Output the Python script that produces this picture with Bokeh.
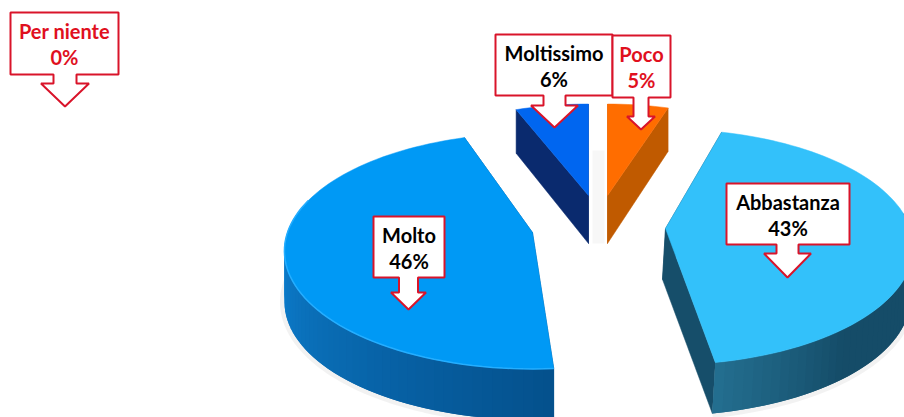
import math
from bokeh.plotting import figure
from bokeh.models import Range1d
from bokeh.core.properties import value
from bokeh.embed import file_html
from bokeh.resources import INLINE

# Data, clockwise from 12 o'clock
categories = ["Poco", "Abbastanza", "Molto", "Per niente", "Moltissimo"]
percent = [5, 43, 46, 0, 6]

# 3D look of each slice
top_color = {"Poco": "#FF6D00", "Abbastanza": "#33C1FA", "Molto": "#0099F5", "Moltissimo": "#0066F0"}
radial_color = {"Poco": "#C05A00", "Abbastanza": "#164E6A", "Molto": "#04508C", "Moltissimo": "#0A2A6E"}
side_near = {"Poco": "#C05A00", "Abbastanza": "#246F90", "Molto": "#04508C", "Moltissimo": "#0A2A6E"}
side_far = {"Poco": "#C05A00", "Abbastanza": "#154C68", "Molto": "#0E84D6", "Moltissimo": "#0A2A6E"}
side_span = {"Poco": 30, "Abbastanza": 30, "Molto": 100, "Moltissimo": 30}
apex = {"Poco": (607, 195), "Abbastanza": (665, 228), "Molto": (532, 232), "Moltissimo": (588, 195)}
scale = {"Poco": 0.92, "Abbastanza": 1.0, "Molto": 1.0, "Moltissimo": 0.92}
depth = {"Poco": 48, "Abbastanza": 51, "Molto": 51, "Moltissimo": 48}
lean = {"Poco": 0, "Abbastanza": -3, "Molto": 0, "Moltissimo": 0}
turn = {"Poco": 0, "Abbastanza": -2.7, "Molto": 3, "Moltissimo": 0}
RX, RY, PERSP = 245, 115, 0.157

# Callouts: box left, right, top, bottom; shaft half width, shaft end, head half width, tip
callout = {
    "Per niente": (10, 118, 12, 74, 11.5, 83, 24, 106, 64.5),
    "Moltissimo": (495, 612, 34, 95, 11, 105, 23.5, 127, 554),
    "Poco": (612, 670, 35, 97, 7.5, 116, 14, 129, 640.5),
    "Molto": (373, 444, 216, 277, 9.5, 292, 17.5, 309, 408),
    "Abbastanza": (726, 849, 183, 244, 11, 253, 23.5, 277, 787),
}
label_color = {"Per niente": "#E0101E", "Poco": "#E0101E", "Moltissimo": "#000000", "Molto": "#000000", "Abbastanza": "#000000"}
RED = "#D9142A"


def hex2rgb(c):
    return tuple(int(c[i:i + 2], 16) for i in (1, 3, 5))


def mix(a, b, t):
    ra, rb = hex2rgb(a), hex2rgb(b)
    return "#%02x%02x%02x" % tuple(round(x + (y - x) * t) for x, y in zip(ra, rb))


def project(name, deg):
    th = math.radians(deg + turn[name])
    u, v = math.sin(th), math.cos(th)
    w = 1 + PERSP * v
    ax, ay = apex[name]
    s = scale[name]
    return ax + s * RX * u / w, ay - s * RY * v / w, v


def drop(name, v):
    return depth[name] * (1 - 0.1 * max(v, 0))


p = figure(width=904, height=417, output_backend="svg", toolbar_location=None,
           x_range=Range1d(0, 904), y_range=Range1d(417, 0),
           min_border=0, outline_line_color=None, background_fill_color="white")
p.axis.visible = False
p.grid.visible = False
p.styles = {"position": "absolute", "left": "0px", "top": "0px"}

# faint shadow between the two small slices
p.patch([592, 604, 604, 592], [150, 150, 243, 243], fill_color="#000000", fill_alpha=0.03, line_color=None)

tops, top_cols, faces, face_cols, strips, strip_cols = [], [], [], [], [], []
shadow_paths = []
start = 0.0
for name, pct in zip(categories, percent):
    sweep = pct * 3.6
    if pct == 0:
        continue
    end = start + sweep
    n = max(8, int(sweep / 2))
    degs = [start + sweep * i / n for i in range(n + 1)]
    pts = [project(name, d) for d in degs]
    ax, ay = apex[name]
    d0 = depth[name]
    dx = lean[name]
    for pt in (pts[0], pts[-1]):
        faces.append(([ax, pt[0], pt[0] + dx, ax + dx], [ay, pt[1], pt[1] + drop(name, pt[2]), ay + d0]))
        face_cols.append(radial_color[name])
    near_deg = 172.8
    order = list(range(n)) if name == "Abbastanza" else list(range(n - 1, -1, -1))
    for i in order:
        a = pts[i]
        # each strip runs on under its neighbour so that no seam shows
        j = min(n, i + 2) if name == "Abbastanza" else i + 1
        k = i if name == "Abbastanza" else max(0, i - 1)
        a, b = pts[k], pts[j]
        if a[2] > 0.1 and b[2] > 0.1:
            continue
        mid = (degs[i] + degs[i + 1]) / 2
        t = min(1.0, abs(mid - near_deg) / side_span[name])
        strips.append(([a[0], b[0], b[0] + dx, a[0] + dx],
                       [a[1], b[1], b[1] + drop(name, b[2]), a[1] + drop(name, a[2])]))
        strip_cols.append(mix(side_near[name], side_far[name], t))
    if name in ("Molto", "Abbastanza"):
        fr = [q for q in pts if q[2] < 0.1]
        shadow_paths.append(([q[0] + dx for q in fr], [q[1] + drop(name, q[2]) for q in fr]))
    tops.append(([ax] + [q[0] for q in pts], [ay] + [q[1] for q in pts]))
    top_cols.append(top_color[name])
    if name == "Molto":
        rim = [q for q, d in zip(pts, degs) if d < 285]
        rim_x, rim_y = [q[0] for q in rim], [q[1] for q in rim]
    start = end

p.multi_line([s[0] for s in shadow_paths], [s[1] for s in shadow_paths], line_color="#000000", line_alpha=0.05, line_width=9)
p.patches([f[0] for f in faces], [f[1] for f in faces], fill_color=face_cols, line_color=face_cols, line_width=0.5)
p.patches([s[0] for s in strips], [s[1] for s in strips], fill_color=strip_cols, line_color=None)
p.patches([t[0] for t in tops], [t[1] for t in tops], fill_color=top_cols, line_color=top_cols, line_width=0.5)
p.line(rim_x, rim_y, line_color="#25AEFF", line_width=1.5)

# Callouts and labels
for name in ["Per niente", "Molto", "Abbastanza", "Moltissimo", "Poco"]:
    l, r, t, b, sh, se, hh, tip, cx = callout[name]
    xs = [l, r, r, cx + sh, cx + sh, cx + hh, cx, cx - hh, cx - sh, cx - sh, l]
    ys = [t, t, b, b, se, se, tip, se, se, b, b]
    p.patch(xs, ys, fill_color="white", line_color=RED, line_width=2)

for name in ["Per niente", "Molto", "Abbastanza", "Moltissimo", "Poco"]:
    l, r, t, b, *_ = callout[name]
    pct = percent[categories.index(name)]
    mx = (l + r) / 2
    p.text([mx], [t + 18], text=[name], text_font=value("Lato"), text_font_style="bold",
           text_font_size="20px", text_align="center", text_baseline="middle", text_color=label_color[name])
    p.text([mx], [t + 44], text=[f"{pct}%"], text_font=value("Lato"), text_font_style="bold",
           text_font_size="20px", text_align="center", text_baseline="middle", text_color=label_color[name])

open("out.html", "w").write(file_html(p, INLINE))
